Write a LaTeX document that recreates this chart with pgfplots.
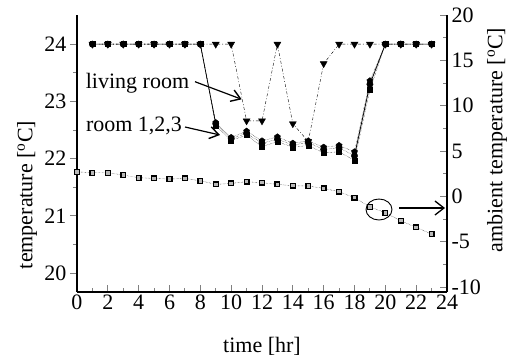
\documentclass[border=0pt]{standalone}
\usepackage{fontspec}
\setmainfont{Liberation Serif}
\usepackage{pgfplots}
\pgfplotsset{compat=1.18}
\usetikzlibrary{arrows.meta}
\begin{document}
\begin{tikzpicture}[font=\fontsize{22}{26}\selectfont]
\path[use as bounding box] (-77pt,-68pt) rectangle (431pt,292pt);
\begin{axis}[
  scale only axis, width=370pt, height=277pt,
  xmin=0, xmax=24, ymin=19.67, ymax=24.51,
  axis x line*=bottom, axis y line*=left,
  axis line style={line width=1.2pt,-},
  xtick={0,2,...,24}, ytick={20,21,22,23,24},
  minor x tick num=1, minor y tick num=1,
  x tick style={line width=0.9pt}, y tick style={line width=0.9pt},
  xtick align=inside, ytick align=outside,
  major tick length=7pt, minor tick length=4pt,
  /pgf/number format/assume math mode=true,
  ticklabel style={font=\fontsize{22}{26}\selectfont},
  xticklabel style={yshift=1pt},
  yticklabel style={xshift=0pt},
  clip=false,
]
% living room
\addplot[black, line width=0.4pt, dash pattern=on 3pt off 2pt on 0.8pt off 2pt,
  mark=triangle*, mark size=4pt, mark options={rotate=180,solid}]
 coordinates {(1,24)(2,24)(3,24)(4,24)(5,24)(6,24)(7,24)(8,24)(9,24)(10,24)
 (11,22.66)(12,22.66)(13,24)(14,22.61)(15,22.30)(16,23.66)(17,24)(18,24)(19,24)
 (20,24)(21,24)(22,24)(23,24)};
% room 1
\addplot[black, line width=0.4pt, densely dotted, mark=*, mark size=3.2pt, mark options={solid}]
 coordinates {(1,24)(2,24)(3,24)(4,24)(5,24)(6,24)(7,24)(8,24)
 (9,22.61)(10,22.35)(11,22.44)(12,22.27)(13,22.34)(14,22.24)(15,22.28)(16,22.16)
 (17,22.19)(18,22.05)(19,23.30)(20,24)(21,24)(22,24)(23,24)};
% room 2
\addplot[black, line width=0.4pt, densely dotted, mark=pentagon*, mark size=3.2pt, mark options={solid}]
 coordinates {(1,24)(2,24)(3,24)(4,24)(5,24)(6,24)(7,24)(8,24)
 (9,22.63)(10,22.37)(11,22.48)(12,22.31)(13,22.38)(14,22.27)(15,22.31)(16,22.20)
 (17,22.23)(18,22.12)(19,23.36)(20,24)(21,24)(22,24)(23,24)};
% room 3
\addplot[black, line width=0.4pt, densely dotted, mark=square*, mark size=2.5pt, mark options={solid}]
 coordinates {(1,24)(2,24)(3,24)(4,24)(5,24)(6,24)(7,24)(8,24)
 (9,22.58)(10,22.32)(11,22.41)(12,22.21)(13,22.30)(14,22.20)(15,22.23)(16,22.10)
 (17,22.12)(18,21.97)(19,23.20)(20,24)(21,24)(22,24)(23,24)};
% solid transitions
\addplot[black, line width=0.7pt, no marks] coordinates {(8,24)(9,22.61)};
\addplot[black, line width=0.7pt, no marks] coordinates {(18,22.05)(19,23.30)(20,24)};
\end{axis}
\begin{axis}[
  scale only axis, width=370pt, height=277pt,
  xmin=0, xmax=24, ymin=-10.55, ymax=20,
  hide x axis, axis y line*=right,
  axis line style={line width=1.2pt,-},
  ytick={-10,-5,0,5,10,15,20}, minor y tick num=1,
  y tick style={line width=0.9pt},
  ytick align=inside,
  major tick length=7pt, minor tick length=4pt,
  /pgf/number format/assume math mode=true,
  ticklabel style={font=\fontsize{22}{26}\selectfont},
  yticklabel style={xshift=1pt},
  clip=false,
]
\addplot[black, line width=0.4pt, densely dotted,
  mark=square*, mark size=2.4pt, mark options={solid, draw=black, fill=gray!55, line width=1.3pt}]
 coordinates {(0,2.71)(1,2.60)(2,2.60)(3,2.35)(4,2.05)(5,1.98)(6,1.91)(7,1.98)
 (8,1.72)(9,1.32)(10,1.43)(11,1.61)(12,1.50)(13,1.32)(14,1.17)(15,1.14)(16,0.88)
 (17,0.51)(18,-0.15)(19,-1.15)(20,-1.81)(21,-2.69)(22,-3.42)(23,-4.16)};
\end{axis}
% labels
\node[rotate=90] at (-50pt,97pt) {temperature [\textsuperscript{o}C]};
\node[rotate=90] at (420pt,152pt) {ambient temperature [\textsuperscript{o}C]};
\node at (185pt,-54pt) {time [hr]};
\node at (60.5pt,209pt) {living room};
\node at (57pt,166pt) {room 1,2,3};
\draw[line width=1.2pt, -{Straight Barb[length=9pt,width=12pt,line width=1.4pt]}] (118pt,210.3pt) -- (164.7pt,192.7pt);
\draw[line width=1.2pt, -{Straight Barb[length=9pt,width=12pt,line width=1.4pt]}] (108pt,165pt) -- (143pt,157pt);
\draw[line width=0.9pt] (302pt,82.5pt) ellipse [x radius=13pt, y radius=10.5pt];
\draw[line width=1.2pt, -{Straight Barb[length=9pt,width=14pt,line width=1.3pt]}] (322pt,84pt) -- (368pt,84pt);
\end{tikzpicture}
\end{document}
